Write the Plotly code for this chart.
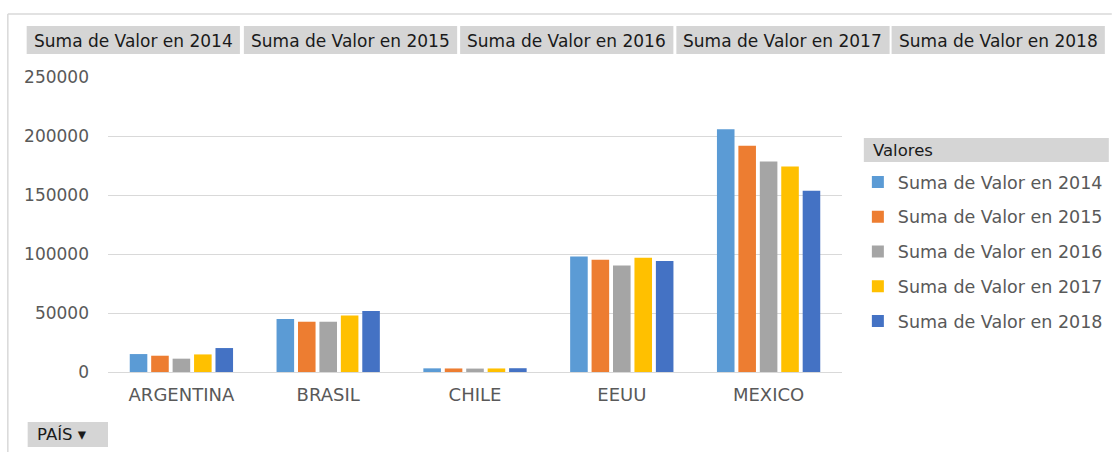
import plotly.graph_objects as go

# ---- data ----
paises = ["ARGENTINA", "BRASIL", "CHILE", "EEUU", "MEXICO"]
series_names = [
    "Suma de Valor en 2014",
    "Suma de Valor en 2015",
    "Suma de Valor en 2016",
    "Suma de Valor en 2017",
    "Suma de Valor en 2018",
]
valor_2014 = [15200, 44900, 3100, 97900, 205800]
valor_2015 = [13800, 42600, 3000, 95100, 191700]
valor_2016 = [11300, 42600, 2900, 90300, 178400]
valor_2017 = [14900, 47900, 3000, 96800, 174100]
valor_2018 = [20300, 51700, 3200, 94000, 153600]
y_ticks = [0, 50000, 100000, 150000, 200000, 250000]

colors = ["#5B9BD5", "#ED7D31", "#A5A5A5", "#FFC000", "#4472C4"]
series_values = [valor_2014, valor_2015, valor_2016, valor_2017, valor_2018]

W, H = 1120, 452
PX0, PX1, PY0, PY1 = 108, 848, 77, 372  # plot area in pixels


def px(x):
    return (x - PX0) / (PX1 - PX0)


def py(y):
    return (PY1 - y) / (PY1 - PY0)


FONT = "DejaVu Sans"
TXT = "#595959"

fig = go.Figure()
for i, (name, vals) in enumerate(zip(series_names, series_values)):
    fig.add_trace(go.Bar(
        x=paises, y=vals, name=name,
        marker=dict(color=colors[i], line=dict(width=0)),
        legendgroup=f"g{i}",
    ))

shapes = []
annotations = []

# outer frame lines
shapes.append(dict(type="line", xref="paper", yref="paper",
                   x0=px(7), x1=px(1120), y0=py(14), y1=py(14),
                   line=dict(color="#d9d9d9", width=1.5)))
shapes.append(dict(type="line", xref="paper", yref="paper",
                   x0=px(7), x1=px(7), y0=py(14), y1=py(452),
                   line=dict(color="#d9d9d9", width=1.5)))

# field buttons at top
btn_left = [26, 245, 463, 681, 898]
btn_w = 215
for left, name in zip(btn_left, series_names):
    shapes.append(dict(type="rect", xref="paper", yref="paper",
                       x0=px(left), x1=px(left + btn_w), y0=py(26), y1=py(54),
                       fillcolor="#d5d5d5", line=dict(width=0)))
    annotations.append(dict(xref="paper", yref="paper",
                            x=px(left + btn_w / 2), y=py(40.5),
                            text=name, showarrow=False,
                            xanchor="center", yanchor="middle",
                            font=dict(family=FONT, size=17, color="#1a1a1a")))

# "Valores" legend header
shapes.append(dict(type="rect", xref="paper", yref="paper",
                   x0=px(870), x1=px(1117), y0=py(138), y1=py(162),
                   fillcolor="#d5d5d5", line=dict(width=0)))
annotations.append(dict(xref="paper", yref="paper", x=px(877), y=py(150),
                        text="Valores", showarrow=False,
                        xanchor="left", yanchor="middle",
                        font=dict(family=FONT, size=16.5, color="#1a1a1a")))

# "PAÍS" button
shapes.append(dict(type="rect", xref="paper", yref="paper",
                   x0=px(27), x1=px(108), y0=py(422), y1=py(447),
                   fillcolor="#d5d5d5", line=dict(width=0)))
annotations.append(dict(xref="paper", yref="paper", x=px(34), y=py(434.5),
                        text="PAÍS ▾", showarrow=False,
                        xanchor="left", yanchor="middle",
                        font=dict(family=FONT, size=16.5, color="#1a1a1a")))

fig.update_layout(
    width=W, height=H,
    margin=dict(l=PX0, r=W - PX1, t=PY0, b=H - PY1, pad=0),
    paper_bgcolor="white", plot_bgcolor="white",
    barmode="group", bargap=0.27, bargroupgap=0.18,
    font=dict(family=FONT, size=16, color=TXT),
    showlegend=True,
    legend=dict(
        x=px(864), y=py(164), xanchor="left", yanchor="top",
        xref="paper", yref="paper",
        traceorder="grouped", tracegroupgap=9,
        font=dict(family=FONT, size=17.5, color=TXT),
        bgcolor="rgba(0,0,0,0)", borderwidth=0,
    ),
    xaxis=dict(
        showgrid=False, showline=True, linecolor="#d9d9d9", linewidth=1,
        ticks="", tickfont=dict(family=FONT, size=18, color=TXT),
        ticklabelstandoff=6,
    ),
    yaxis=dict(
        range=[0, 250000], tickvals=y_ticks,
        ticktext=[str(v) for v in y_ticks],
        showgrid=True, gridcolor="#d9d9d9", gridwidth=1,
        zeroline=False, showline=False, ticks="",
        tickfont=dict(family=FONT, size=17, color=TXT),
        ticklabelstandoff=18,
    ),
    shapes=shapes,
    annotations=annotations,
)

fig.write_html(
    "out.html",
    config={"displayModeBar": False},
    post_script="document.body.style.margin='0';document.body.style.overflow='hidden';",
)
